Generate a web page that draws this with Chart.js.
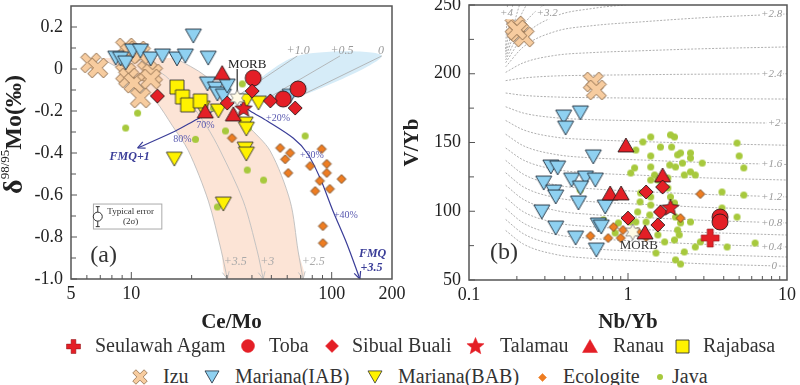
<!DOCTYPE html>
<html>
<head>
<meta charset="utf-8">
<title>Mo isotopes and V/Yb</title>
<script src="https://cdn.jsdelivr.net/npm/chart.js"></script>
<style>
  html, body { margin: 0; padding: 0; background: #fff; }
  #wrap { position: relative; width: 800px; height: 385px; overflow: hidden; }
  #chartA { position: absolute; left: 0; top: -14px; }
  #chartB { position: absolute; left: 400px; top: -15px; }
  .lgText { position: absolute; font-size: 20px; line-height: 24px; color: #333; white-space: nowrap; }
  .lgIcon { position: absolute; }
</style>
</head>
<body>
<div id="wrap">
  <canvas id="chartA" width="420" height="354"></canvas>
  <canvas id="chartB" width="400" height="355"></canvas>
  <div id="legend"></div>
</div>
<script>
const FONT = '"Liberation Serif", "Times New Roman", serif';

// ---------- panel (a): Ce/Mo vs d98/95Mo ----------
const ceMoTicks = [5, 10, 100, 200];
const ceMoMinor = [6, 7, 8, 9, 20, 30, 40, 50, 60, 70, 80, 90];
const moTicks = [-1.0, -0.8, -0.6, -0.4, -0.2, 0, 0.2];
const moMinor = [-0.9, -0.7, -0.5, -0.3, -0.1, 0.1];

const izuA = [[6.27, 0.029], [6.8, 0.005], [9.37, 0.10], [9.9, 0.076], [10.75, 0.086], [11.1, 0.071], [9.37, -0.019], [9.7, -0.043], [10.3, -0.067], [12.05, -0.01], [12.76, -0.024], [12.5, -0.048], [11.1, -0.138]];
const iabA = [[8.36, 0.052], [8.84, 0.048], [9.37, 0.029], [10.15, 0.086], [11.1, 0.086], [12.5, 0.048], [14.3, 0.062], [16.9, 0.048], [18.6, 0.062], [20.4, 0.157], [24.2, 0.052], [24.0, -0.071], [26.3, -0.095], [26.9, -0.119], [28.8, -0.129], [30.1, -0.081], [62, -0.13]];
const babA = [[22.6, -0.186], [27.2, -0.2], [37.5, -0.152], [43.1, -0.162], [37.0, -0.262], [37.5, -0.286], [37.0, -0.381], [37.5, -0.405], [16.4, -0.429], [28.8, -0.643]];
const rajaA = [[16.9, -0.086], [18.0, -0.133], [19.1, -0.171], [22.1, -0.152]];
const tobaA = [[40.6, -0.043], [57.3, -0.143], [68.0, -0.095]];
const sibualA = [[13.5, -0.129], [40.1, -0.105], [30.1, -0.162], [49.4, -0.152], [65.7, -0.186]];
const talamauA = [[36.3, -0.19]];
const ranauA = [[28.4, -0.017], [23.4, -0.2], [32.3, -0.214]];
const eclA = [[31.8, -0.329], [55.3, -0.376], [58.6, -0.43], [62, -0.4], [89.2, -0.381], [78, -0.462], [94.5, -0.452], [60.7, -0.495], [94.5, -0.495], [87.3, -0.533], [112, -0.524], [97.9, -0.571], [82.7, -0.581], [90.4, -0.748], [90.4, -0.829]];
const javaA = [[9.37, -0.281], [10.75, -0.21], [20.9, -0.335], [25.7, -0.186], [29.5, -0.295], [35.8, -0.071], [38.4, -0.281], [73.7, -0.319], [37.9, -0.481], [45.7, -0.529], [26.9, -0.657]];
const morbA = [[33.8, -0.138]];

// melting curves (+3.5, +3, +2.5) and mixing wedge
const melt35 = [[7.04, 0.052], [9.92, -0.033], [13.21, -0.152], [16.05, -0.271], [19.28, -0.39], [24.25, -0.629], [28.13, -0.867], [30.14, -1.0]];
const melt30 = [[10.5, 0.052], [14.81, -0.033], [19.28, -0.152], [23.7, -0.271], [27.81, -0.39], [36.21, -0.629], [42.5, -0.867], [45.52, -1.0]];
const melt25 = [[16.61, 0.052], [23.43, -0.033], [30.49, -0.152], [38.34, -0.271], [49.32, -0.39], [62.02, -0.629], [67.98, -0.867], [71.97, -1.0]];
const wedge = [[33.8, -0.129], [67.3, 0.062], [177.8, 0.062], [68.0, -0.133], [39.2, -0.152]];
const mixP10 = [[33.8, -0.129], [67.3, 0.062]];
const mixP05 = [[48.2, -0.138], [110, 0.062]];
const mixP00 = [[68.0, -0.133], [177.8, 0.062]];
const fmq1 = [[32.3, -0.152], [21.4, -0.238], [16.6, -0.295], [10.75, -0.376]];
const fmq35 = [[35.0, -0.167], [39.2, -0.2], [47.7, -0.248], [64.2, -0.329], [75.4, -0.4], [87.5, -0.519], [101.5, -0.676], [119.2, -0.833], [138.3, -1.0]];
const morbPointer = [[33.8, 0.0], [33.8, -0.115]];

// ---------- panel (b): Nb/Yb vs V/Yb ----------
const nbYbTicks = [0.1, 1, 10];
const nbYbMinor = [0.2, 0.3, 0.4, 0.5, 0.6, 0.7, 0.8, 0.9, 2, 3, 4, 5, 6, 7, 8, 9];
const vYbTicks = [50, 100, 150, 200, 250];
const vYbMinor = [75, 125, 175, 225];

const izuB = [[0.195, 234.7], [0.206, 230.4], [0.222, 226.7], [0.2, 231.8], [0.605, 194], [0.632, 188.2]];
const iabB = [[0.394, 168.5], [0.502, 171.5], [0.405, 160.5], [0.605, 139.5], [0.327, 132.2], [0.361, 131.5], [0.295, 120.5], [0.341, 114], [0.351, 110.4], [0.442, 122.7], [0.54, 124.2], [0.623, 122.7], [0.502, 116.9], [0.488, 106], [0.719, 103.1], [0.287, 99.5], [0.351, 87.8], [0.468, 80.5], [0.65, 90], [0.679, 88.5], [0.632, 71.8]];
const ranauB = [[0.97, 148.2], [0.772, 113.3], [0.905, 113.3], [1.65, 126.4], [1.28, 84.9]];
const sibualB = [[1.3, 114], [1.65, 117.6], [1.6, 99.5], [1.0, 95], [1.54, 90]];
const talamauB = [[1.85, 102.4]];
const tobaB = [[3.79, 95.8], [3.79, 92.2]];
const seulawahB = [[3.29, 80.5]];
const morbB = [[1.07, 84.9]];
const eclB = [[0.58, 82], [0.75, 80.5], [0.81, 88.5], [0.9, 80.5], [0.93, 86.4], [1.15, 85], [1.3, 81.3], [2.14, 95], [2.85, 112.5]];
const javaB = [[1.12, 144.5], [1.24, 150.4], [1.39, 154], [1.6, 146.7], [1.85, 155.5], [1.96, 154], [1.88, 146.7], [2.05, 141], [2.14, 142.4], [2.47, 142.4], [2.47, 138.7], [2.93, 135], [1.39, 140.2], [1.1, 131.5], [1.39, 132.2], [1.83, 133.6], [1.99, 132.2], [2.2, 135], [4.85, 149.6], [5.0, 140.2], [5.35, 131.5],
  [1.04, 127.8], [1.47, 126.4], [1.39, 122.7], [1.54, 122.7], [1.78, 124.2], [2.26, 126.4], [2.47, 128.6], [2.65, 126.4], [1.2, 113.3], [1.19, 106.8], [1.39, 110.4], [1.39, 104.5], [1.15, 99.5], [1.37, 97.3], [1.3, 92.2], [1.78, 116.9], [1.85, 110.4], [1.96, 106], [1.99, 95.8], [2.14, 91.5], [2.05, 86.4], [2.1, 82.8], [1.96, 79.1], [1.7, 77.7], [1.54, 82.8], [1.54, 88.5], [1.12, 92.2], [1.03, 92.2], [0.87, 91.5], [0.7, 93.7], [0.83, 84.2], [2.47, 92.2], [2.26, 70.4], [1.99, 64.6], [2.14, 61.6], [1.5, 69.6], [2.65, 74], [2.85, 77.7], [3.9, 114], [3.9, 102.4], [5.35, 111.8], [4.85, 95.8], [4.2, 74], [6.3, 76.9], [0.5, 115.5]];

// fO2 isolines: V/Yb read at these Nb/Yb values, one row per curve (0 ... +4)
const isoX = [0.17, 0.22, 0.35, 0.6, 1.2, 3, 10];
const isoV = [
  [86, 76.1, 68.6, 65.7, 63.9, 61.8, 60],
  [94, 83.6, 75.7, 72.7, 70.8, 68.6, 66.7],
  [102, 91.4, 83.2, 80.2, 78.2, 76.0, 74],
  [110, 99.6, 91.7, 88.7, 86.8, 84.6, 82.7],
  [119, 108.6, 100.6, 97.6, 95.6, 93.4, 91.5],
  [128, 117.7, 109.9, 106.9, 105.1, 102.9, 101],
  [137, 126.9, 119.2, 116.3, 114.4, 112.3, 110.4],
  [146, 137.2, 130.4, 127.8, 126.2, 124.3, 122.7],
  [156, 147.6, 141.3, 138.8, 137.3, 135.5, 134],
  [166, 159.2, 153.9, 152.0, 150.7, 149.3, 148],
  [176, 171.4, 168.0, 166.6, 165.8, 164.8, 164],
  [186, 184.3, 183.1, 182.6, 182.3, 181.9, 181.6],
  [195, 196.9, 198.4, 198.9, 199.3, 199.7, 200],
  [201, 208.0, 213.4, 215.4, 216.7, 218.2, 219.5],
  [205, 219.6, 230.8, 235.0, 237.7, 240.8, 243.5],
  [208, 227.2, 241.9, 247.5, 251.0, 255.1, 258.6],
  [210, 235.5, 254.9, 262.3, 267.0, 272.3, 277],
  [212, 246.2, 272.3, 282.2, 288.5, 295.7, 302],
  [214, 258.1, 291.7, 304.5, 312.6, 321.9, 330],
  [216, 296.1, 358.7, 382.1, 397.1, 414.1, 429],
  [218, 524, 759, 848, 904, 969, 1025]
];
const isoLabels = [['0', 8.3, 60], ['+0.4', 8, 74], ['+0.8', 8, 91.5], ['+1.2', 8, 110.4], ['+1.6', 8, 134], ['+2', 8.3, 164], ['+2.4', 8, 200], ['+2.8', 8, 243.5], ['+3.2', 0.31, 244], ['+4', 0.172, 244]];

// ---------- markers ----------
const RED = '#e41f26', DARK = '#2a1a1a';

function mk(kind, size, fill, stroke, lw) {
  const d = Math.ceil(size + 2 * lw + 2);
  const c = document.createElement('canvas');
  c.width = d; c.height = d;
  const g = c.getContext('2d');
  const m = d / 2, r = size / 2;
  g.fillStyle = fill; g.strokeStyle = stroke; g.lineWidth = lw;
  g.beginPath();
  if (kind === 'circle') {
    g.arc(m, m, r, 0, Math.PI * 2);
  } else if (kind === 'diamond') {
    g.moveTo(m, m - r); g.lineTo(m + r, m); g.lineTo(m, m + r); g.lineTo(m - r, m); g.closePath();
  } else if (kind === 'square') {
    g.rect(m - r, m - r, size, size);
  } else if (kind === 'triUp' || kind === 'triDown') {
    const h = size * 0.87, s = kind === 'triUp' ? 1 : -1;
    g.moveTo(m, m - s * h / 2); g.lineTo(m + r, m + s * h / 2); g.lineTo(m - r, m + s * h / 2); g.closePath();
  } else if (kind === 'star5' || kind === 'star6') {
    const n = kind === 'star5' ? 5 : 6, ri = kind === 'star5' ? r * 0.45 : r * 0.55;
    for (let i = 0; i < n * 2; i++) {
      const a = -Math.PI / 2 + i * Math.PI / n, rr = i % 2 ? ri : r;
      g.lineTo(m + rr * Math.cos(a), m + rr * Math.sin(a));
    }
    g.closePath();
  } else if (kind === 'plus' || kind === 'xcross') {
    const w = size * (kind === 'plus' ? 0.17 : 0.14);
    const a = kind === 'xcross' ? Math.PI / 4 : 0, ca = Math.cos(a), sa = Math.sin(a);
    [[-w, -r], [w, -r], [w, -w], [r, -w], [r, w], [w, w], [w, r], [-w, r], [-w, w], [-r, w], [-r, -w], [-w, -w]]
      .forEach(([px, py]) => g.lineTo(m + px * ca - py * sa, m + px * sa + py * ca));
    g.closePath();
  }
  g.fill();
  if (lw > 0) g.stroke();
  return c;
}

const M = {
  seul: mk('plus', 18, RED, '#8a1014', 0.6),
  toba: mk('circle', 16, RED, DARK, 0.9),
  sibual: mk('diamond', 14, RED, DARK, 0.9),
  talamau: mk('star5', 18, RED, DARK, 0.8),
  ranau: mk('triUp', 16, RED, DARK, 0.9),
  raja: mk('square', 14, '#fff200', '#333', 0.9),
  izu: mk('xcross', 22, '#f7cc9f', '#8f6e4e', 1),
  iab: mk('triDown', 16, '#8fd1f1', '#1d2a38', 0.9),
  bab: mk('triDown', 16, '#fff200', '#333', 0.9),
  ecl: mk('diamond', 9, '#ee7d22', '#5c3310', 0.8),
  java: mk('circle', 7, '#a7c93d', '#a7c93d', 0),
  morb: mk('star6', 16, '#fffbe6', '#777', 0.8)
};

function pts(arr) { return arr.map(([x, y]) => ({x, y})); }
function series(arr, style, order) {
  return { data: pts(arr), pointStyle: style, pointRadius: style.width / 2, order, showLine: false };
}
function curve(arr, color, width, order, extra) {
  return Object.assign({ type: 'line', data: pts(arr), borderColor: color, borderWidth: width, pointRadius: 0, fill: false, tension: 0.3, order }, extra || {});
}
function shape(arr, color, order) {
  return { type: 'line', data: pts(arr), borderWidth: 0, borderColor: 'rgba(0,0,0,0)', backgroundColor: color, fill: 'shape', pointRadius: 0, tension: 0.3, order };
}

// frame, inward ticks, arrowheads and text labels
function decorPlugin(cfg) {
  return {
    id: 'decor',
    afterDatasetsDraw(chart) {
      const {ctx, chartArea: a, scales: {x, y}} = chart;
      ctx.save();
      chart.data.datasets.forEach((ds, i) => {
        if (!ds.arrow) return;
        const el = chart.getDatasetMeta(i).data;
        const p = el[el.length - 1], q = el[el.length - 2];
        const ang = Math.atan2(p.y - q.y, p.x - q.x);
        ctx.strokeStyle = ds.borderColor;
        ctx.lineWidth = ds.borderWidth;
        ctx.beginPath();
        [ang + 2.7, ang - 2.7].forEach(t => {
          ctx.moveTo(p.x, p.y);
          ctx.lineTo(p.x + 8 * Math.cos(t), p.y + 8 * Math.sin(t));
        });
        ctx.stroke();
      });

      if (cfg.errBox) {
        const b = cfg.errBox;
        const x0 = x.getPixelForValue(b.x0), x1 = x.getPixelForValue(b.x1);
        const y0 = y.getPixelForValue(b.y0), y1 = y.getPixelForValue(b.y1);
        ctx.strokeStyle = '#aaa'; ctx.lineWidth = 1;
        ctx.strokeRect(x0, y0, x1 - x0, y1 - y0);
        const cx = x.getPixelForValue(b.cx), cy = y.getPixelForValue(b.cy);
        ctx.strokeStyle = '#333';
        ctx.beginPath(); ctx.arc(cx, cy, 4.5, 0, Math.PI * 2); ctx.stroke();
        ctx.beginPath();
        ctx.moveTo(cx, cy - 10); ctx.lineTo(cx, cy - 4.5);
        ctx.moveTo(cx, cy + 4.5); ctx.lineTo(cx, cy + 10);
        ctx.moveTo(cx - 2, cy - 10); ctx.lineTo(cx + 2, cy - 10);
        ctx.moveTo(cx - 2, cy + 10); ctx.lineTo(cx + 2, cy + 10);
        ctx.stroke();
      }

      ctx.textAlign = 'center';
      ctx.textBaseline = 'middle';
      cfg.texts.forEach(t => {
        const px = x.getPixelForValue(t.x), py = y.getPixelForValue(t.y);
        ctx.font = t.f;
        if (t.bg) {
          const w = ctx.measureText(t.t).width;
          ctx.fillStyle = '#fff';
          ctx.fillRect(px - w / 2 - 1, py - 6, w + 2, 12);
        }
        ctx.fillStyle = t.c;
        ctx.fillText(t.t, px, py);
      });

      ctx.strokeStyle = '#555';
      ctx.lineWidth = 1.5;
      ctx.strokeRect(a.left, a.top, a.right - a.left, a.bottom - a.top);
      ctx.lineWidth = 1;
      ctx.beginPath();
      cfg.xMajor.forEach(v => { const px = x.getPixelForValue(v); ctx.moveTo(px, a.bottom); ctx.lineTo(px, a.bottom - 7); });
      cfg.xMinor.forEach(v => { const px = x.getPixelForValue(v); ctx.moveTo(px, a.bottom); ctx.lineTo(px, a.bottom - 4); });
      cfg.yMajor.forEach(v => { const py = y.getPixelForValue(v); ctx.moveTo(a.left, py); ctx.lineTo(a.left + 6, py); });
      cfg.yMinor.forEach(v => { const py = y.getPixelForValue(v); ctx.moveTo(a.left, py); ctx.lineTo(a.left + 5, py); });
      ctx.stroke();
      ctx.restore();
    },
    afterDraw(chart) {
      if (!cfg.deltaTitle) return;
      const {ctx, chartArea: a} = chart;
      ctx.save();
      ctx.translate(15, (a.top + a.bottom) / 2 - 8);
      ctx.rotate(-Math.PI / 2);
      ctx.fillStyle = '#222';
      ctx.textAlign = 'left';
      ctx.textBaseline = 'middle';
      const parts = [['δ', 'bold 28px ' + FONT, 0], ['98/95', '13px ' + FONT, -9], ['Mo(‰)', 'bold 24px ' + FONT, 0]];
      let w = 0;
      parts.forEach(p => { ctx.font = p[1]; w += ctx.measureText(p[0]).width; });
      let xx = -w / 2;
      parts.forEach(p => { ctx.font = p[1]; ctx.fillText(p[0], xx, p[2]); xx += ctx.measureText(p[0]).width; });
      ctx.restore();
    }
  };
}

function axis(type, min, max, ticks, cb, size, title) {
  return {
    type, min, max,
    afterBuildTicks: s => { s.ticks = ticks.map(v => ({value: v})); },
    afterFit: s => { if (s.isHorizontal()) s.height = size; else s.width = size; },
    ticks: { callback: cb, autoSkip: false, maxRotation: 0, padding: type === 'logarithmic' ? 4 : 8, color: '#222', font: {family: FONT, size: 18} },
    grid: { display: false, drawTicks: false },
    border: { display: false },
    title: title ? { display: true, text: title, color: '#222', font: {family: FONT, size: 21, weight: 'bold'}, padding: {top: 0, bottom: 5} } : { display: false }
  };
}

const base = {
  responsive: false, animation: false, events: [],
  plugins: { legend: { display: false }, tooltip: { enabled: false } }
};

// ---------- chart (a) ----------
const gray = '#bdbdbd';
const italicGray = 'italic 12px ' + FONT;
const pctFont = '10px ' + FONT;
const fmqFont = 'bold italic 12px ' + FONT;
const blueLine = '#3a3d98';

new Chart(document.getElementById('chartA'), {
  type: 'scatter',
  data: { datasets: [
    series(morbA, M.morb, 1),
    series(talamauA, M.talamau, 2),
    series(ranauA, M.ranau, 2),
    series(sibualA, M.sibual, 2),
    series(tobaA, M.toba, 2),
    series(rajaA, M.raja, 3),
    series(babA, M.bab, 4),
    series(iabA, M.iab, 5),
    series(izuA, M.izu, 5),
    series(eclA, M.ecl, 6),
    series(javaA, M.java, 7),
    curve(fmq1, blueLine, 1.2, 20, {arrow: true}),
    curve(fmq35, blueLine, 1.2, 20, {arrow: true}),
    curve(morbPointer, '#555', 1, 20, {tension: 0}),
    curve(mixP10, '#aaa', 0.8, 21, {tension: 0}),
    curve(mixP05, '#aaa', 0.8, 21, {tension: 0}),
    curve(mixP00, '#aaa', 0.8, 21, {tension: 0}),
    curve(melt35, gray, 0.9, 21, {arrow: true}),
    curve(melt30, gray, 0.9, 21, {arrow: true}),
    curve(melt25, gray, 0.9, 21, {arrow: true}),
    shape(wedge, '#d6ecf8', 30),
    shape(melt35.concat(melt30.slice().reverse()), '#fce4d6', 30),
    shape(melt30.concat(melt25.slice().reverse()), '#fce4d6', 30)
  ] },
  options: Object.assign({}, base, {
    layout: { autoPadding: false, padding: {left: 0, right: 28, top: 20, bottom: 0} },
    scales: {
      x: axis('logarithmic', 5, 200, ceMoTicks, v => String(v), 61, 'Ce/Mo'),
      y: axis('linear', -1.0, 0.3, moTicks, v => (v === 0 ? '0' : v.toFixed(1)), 71, null)
    }
  }),
  plugins: [decorPlugin({
    deltaTitle: true,
    xMajor: [10, 100], xMinor: ceMoMinor, yMajor: moTicks, yMinor: moMinor,
    errBox: {x0: 6.47, x1: 14.2, y0: -0.643, y1: -0.762, cx: 6.8, cy: -0.703},
    texts: [
      {t: '+1.0', x: 68, y: 0.086, f: italicGray, c: '#999'},
      {t: '+0.5', x: 112.6, y: 0.086, f: italicGray, c: '#999'},
      {t: '0', x: 176, y: 0.086, f: italicGray, c: '#999'},
      {t: 'MORB', x: 37.9, y: 0.019, f: '13px ' + FONT, c: '#222'},
      {t: '70%', x: 23.4, y: -0.267, f: pctFont, c: '#5a5ab0'},
      {t: '80%', x: 18.0, y: -0.333, f: pctFont, c: '#5a5ab0'},
      {t: '+20%', x: 54, y: -0.233, f: pctFont, c: '#5a5ab0'},
      {t: '+30%', x: 79.7, y: -0.41, f: pctFont, c: '#5a5ab0'},
      {t: '+40%', x: 117.8, y: -0.695, f: pctFont, c: '#5a5ab0'},
      {t: 'FMQ+1', x: 9.81, y: -0.419, f: fmqFont, c: blueLine},
      {t: 'FMQ', x: 160, y: -0.881, f: fmqFont, c: blueLine},
      {t: '+3.5', x: 158, y: -0.948, f: fmqFont, c: blueLine},
      {t: '+3.5', x: 33.0, y: -0.919, f: italicGray, c: '#aaa'},
      {t: '+3', x: 47.7, y: -0.919, f: italicGray, c: '#aaa'},
      {t: '+2.5', x: 80.9, y: -0.919, f: italicGray, c: '#aaa'},
      {t: 'Typical error', x: 9.92, y: -0.681, f: '9px ' + FONT, c: '#333'},
      {t: '(2σ)', x: 9.92, y: -0.727, f: '9px ' + FONT, c: '#333'},
      {t: '(a)', x: 7.28, y: -0.89, f: '24px ' + FONT, c: '#333'}
    ]
  })]
});

// ---------- chart (b) ----------
const isoSets = isoV.map(row => curve(row.map((v, i) => [isoX[i], v]), '#9a9a9a', 0.8, 30,
  {tension: 0, cubicInterpolationMode: 'monotone', borderDash: [2, 1.5]}));

new Chart(document.getElementById('chartB'), {
  type: 'scatter',
  data: { datasets: [
    series(morbB, M.morb, 1),
    series(seulawahB, M.seul, 2),
    series(talamauB, M.talamau, 2),
    series(tobaB, M.toba, 2),
    series(sibualB, M.sibual, 2),
    series(ranauB, M.ranau, 2),
    series(iabB, M.iab, 5),
    series(izuB, M.izu, 5),
    series(eclB, M.ecl, 6),
    series(javaB, M.java, 7)
  ].concat(isoSets) },
  options: Object.assign({}, base, {
    layout: { autoPadding: false, padding: {left: 0, right: 10, top: 20, bottom: 0} },
    scales: {
      x: axis('logarithmic', 0.1, 10, nbYbTicks, v => String(v), 60, 'Nb/Yb'),
      y: axis('linear', 50, 250, vYbTicks, v => String(v), 69, 'V/Yb')
    }
  }),
  plugins: [decorPlugin({
    xMajor: [1], xMinor: nbYbMinor, yMajor: vYbTicks, yMinor: vYbMinor,
    texts: isoLabels.map(([t, x, y]) => ({t, x, y, f: 'italic 11px ' + FONT, c: '#999', bg: true})).concat([
      {t: 'MORB', x: 1.17, y: 74.8, f: '13px ' + FONT, c: '#333'},
      {t: '(b)', x: 0.166, y: 69.7, f: '24px ' + FONT, c: '#333'}
    ])
  })]
});

// ---------- legend ----------
const legendItems = [
  [mk('plus', 14, RED, '#8a1014', 0.5), 'Seulawah Agam', 73, 95, 346],
  [mk('circle', 13, RED, RED, 0.5), 'Toba', 248, 269, 346],
  [mk('diamond', 13, RED, RED, 0.5), 'Sibual Buali', 332, 352, 346],
  [mk('star5', 18, RED, RED, 0.5), 'Talamau', 475, 500, 346],
  [mk('triUp', 15, RED, RED, 0.5), 'Ranau', 590, 613, 346],
  [mk('square', 13, '#fff200', '#333', 0.9), 'Rajabasa', 682, 703, 346],
  [mk('xcross', 16, '#f7cc9f', '#8f6e4e', 0.8), 'Izu', 140, 163, 377],
  [mk('triDown', 14, '#8fd1f1', '#1d2a38', 0.8), 'Mariana(IAB)', 212, 235, 377],
  [mk('triDown', 14, '#fff200', '#333', 0.8), 'Mariana(BAB)', 375, 398, 377],
  [mk('diamond', 8, '#ee7d22', '#ee7d22', 0.5), 'Ecologite', 542, 563, 377],
  [mk('circle', 6, '#a7c93d', '#a7c93d', 0), 'Java', 660, 672, 377]
];
const legend = document.getElementById('legend');
legendItems.forEach(([icon, label, ix, tx, cy]) => {
  icon.className = 'lgIcon';
  icon.style.left = (ix - icon.width / 2) + 'px';
  icon.style.top = (cy - icon.height / 2) + 'px';
  legend.appendChild(icon);
  const s = document.createElement('div');
  s.className = 'lgText';
  s.style.fontFamily = FONT;
  s.textContent = label;
  s.style.left = tx + 'px';
  s.style.top = (cy - 13) + 'px';
  legend.appendChild(s);
});
</script>
</body>
</html>
